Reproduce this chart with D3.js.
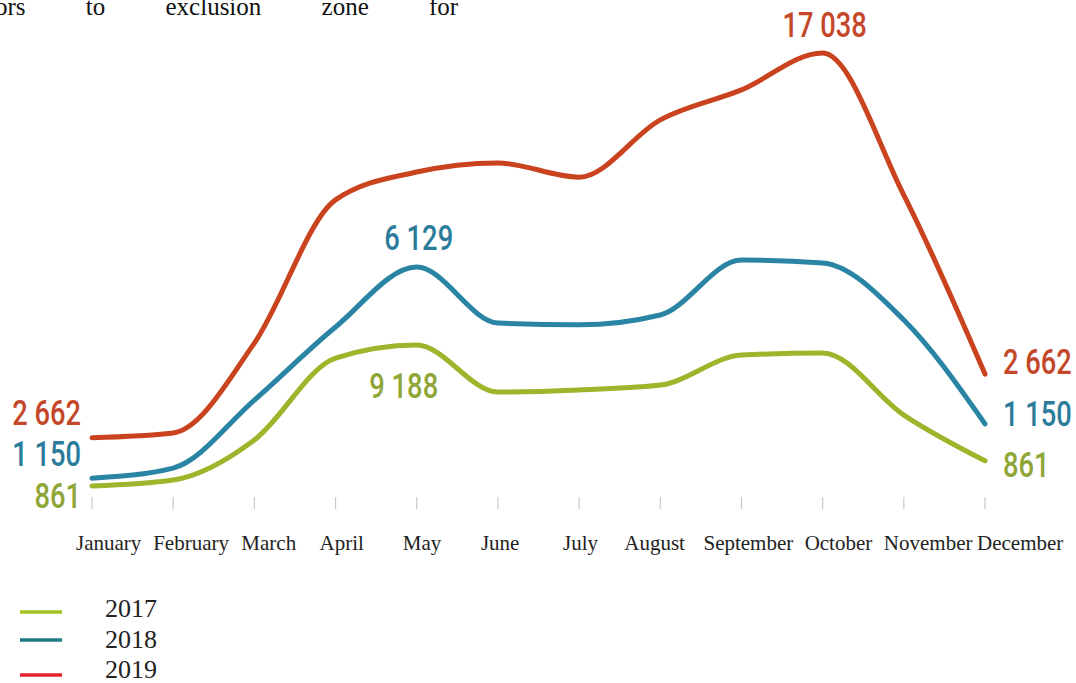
<!DOCTYPE html>
<html>
<head>
<meta charset="utf-8">
<script src="https://cdn.jsdelivr.net/npm/d3@7"></script>
<style>
  html, body { margin: 0; padding: 0; background: #fff; }
  svg { display: block; }
</style>
</head>
<body>
<script>
var wW = 1076;
var wH = 683;

// data
var months = ["January", "February", "March", "April", "May", "June",
  "July", "August", "September", "October", "November", "December"];
var years = ["2017", "2018", "2019"];
var values2017 = [861, 1084, 2580, 5640, 6130, 4370, 4450, 4630, 5750, 5830, 3510, 1800];
var values2018 = [1150, 1530, 4070, 6800, 9040, 6950, 6880, 7250, 9300, 9190, 7060, 3180];
var values2019 = [2662, 2840, 6200, 11550, 12590, 12930, 12400, 14540, 15660, 17038, 11730, 5040];
var startLabels = ["861", "1 150", "2 662"];
var endLabels = ["861", "1 150", "2 662"];
var peakLabels = ["9 188", "6 129", "17 038"];
var peakMonths = ["May", "May", "October"];
var headerWords = ["ors", "to", "exclusion", "zone", "for"];

var series = [values2017, values2018, values2019];
var lineColors = ["#9db52a", "#2a84a4", "#c9431f"];
var labelColors = ["#8fa536", "#2b7c9b", "#c4472a"];
var legendColors = ["#a2c523", "#1f7a86", "#e4202a"];
// where each number sits relative to its point
var startDy = [22, -12, -13];
var endDy = [16, 2, 0];
var peakDy = [53, -17, -16];
// month names are laid out like a table row, not quite under the ticks
var monthDx = [-16, -20, -13, -16, -14, -17, -16, -36, -38, -18, -20, -8];

var serif = "'Liberation Serif', 'Times New Roman', serif";

var svg = d3.select("body").append("svg")
  .attr("width", wW)
  .attr("height", wH);

var x = d3.scalePoint().domain(months).range([92, 985]);
var y = d3.scaleLinear().domain([0, 17038]).range([509, 53]);

// condensed number label: squeeze Roboto sideways
function numLabel(px, py, txt, color, anchor) {
  svg.append("g")
    .attr("transform", "translate(" + px + "," + py + ") scale(0.78,1)")
    .append("text")
    .attr("font-family", "Roboto, 'Noto Sans', sans-serif")
    .attr("font-weight", 500)
    .attr("font-size", 35)
    .attr("fill", color)
    .style("text-anchor", anchor)
    .text(txt);
}

// bit of text cut off from the page above
svg.append("text")
  .attr("x", -5)
  .attr("y", 15)
  .attr("font-family", serif)
  .attr("font-size", 25)
  .attr("word-spacing", 54)
  .attr("fill", "#111")
  .text(headerWords.join(" "));

// small tick marks under each month
svg.selectAll(".tick")
  .data(months)
  .enter().append("line")
  .attr("x1", function(d) { return x(d); })
  .attr("x2", function(d) { return x(d); })
  .attr("y1", 497)
  .attr("y2", 509)
  .attr("stroke", "#c8c8c8")
  .attr("stroke-width", 1.2);

svg.selectAll(".month")
  .data(months)
  .enter().append("text")
  .attr("x", function(d, i) { return x(d) + monthDx[i]; })
  .attr("y", 550)
  .attr("font-family", serif)
  .attr("font-size", 21)
  .attr("fill", "#222")
  .text(function(d) { return d; });

var line = d3.line()
  .x(function(d, i) { return x(months[i]); })
  .y(function(d) { return y(d); })
  .curve(d3.curveMonotoneX);

series.forEach(function(vals, s) {
  svg.append("path")
    .attr("d", line(vals))
    .attr("fill", "none")
    .attr("stroke", lineColors[s])
    .attr("stroke-width", 5)
    .attr("stroke-linecap", "round")
    .attr("stroke-linejoin", "round");

  numLabel(x(months[0]) - 11, y(vals[0]) + startDy[s], startLabels[s], labelColors[s], "end");
  numLabel(x(months[11]) + 18, y(vals[11]) + endDy[s], endLabels[s], labelColors[s], "start");

  var pi = months.indexOf(peakMonths[s]);
  numLabel(x(peakMonths[s]) + (s === 0 ? -13 : 2), y(vals[pi]) + peakDy[s],
    peakLabels[s], labelColors[s], "middle");
});

// legend
var legendLineY = [612, 640, 675];
var legendTextY = [617, 648, 678];
years.forEach(function(yr, i) {
  svg.append("line")
    .attr("x1", 20)
    .attr("x2", 62)
    .attr("y1", legendLineY[i])
    .attr("y2", legendLineY[i])
    .attr("stroke", legendColors[i])
    .attr("stroke-width", 3.5);
  svg.append("text")
    .attr("x", 105)
    .attr("y", legendTextY[i])
    .attr("font-family", serif)
    .attr("font-size", 26)
    .attr("fill", "#222")
    .text(yr);
});
</script>
</body>
</html>
